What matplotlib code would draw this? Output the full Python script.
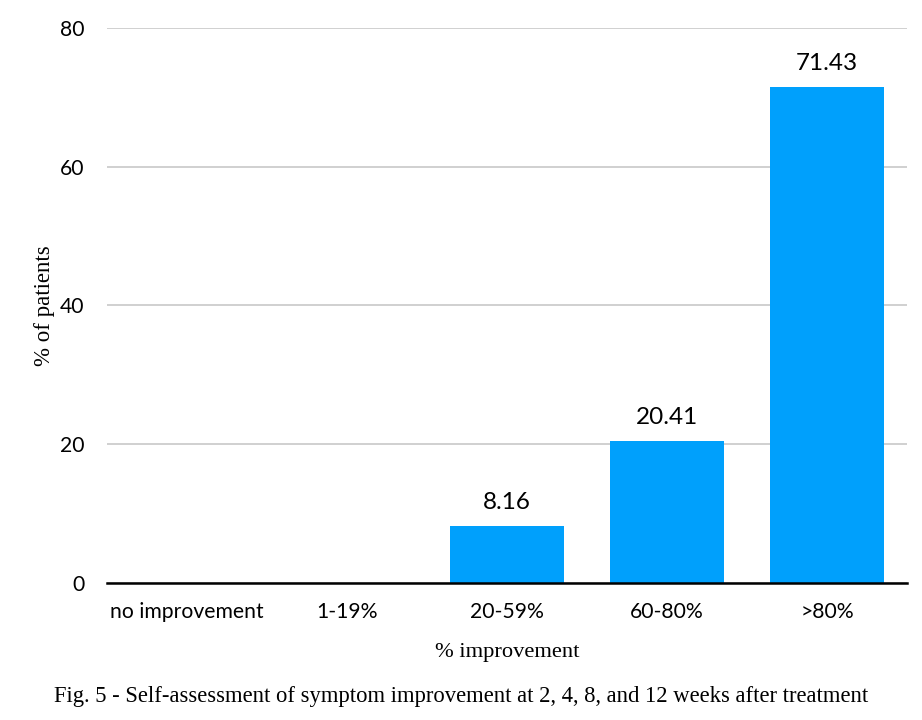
import matplotlib
matplotlib.use("Agg")
import matplotlib.pyplot as plt
import numpy as np

# data
categories = ["no improvement", "1-19%", "20-59%", "60-80%", ">80%"]
values = [0, 0, 8.16, 20.41, 71.43]
y_ticks = [0, 20, 40, 60, 80]

sans = ["Lato", "DejaVu Sans"]
serif = ["Liberation Serif", "DejaVu Serif"]

fig = plt.figure(figsize=(9.22, 7.2), dpi=100)
ax = fig.add_axes([0.116, 0.1903, 0.8677, 0.7708])

x = np.arange(len(categories))
bars = ax.bar(x, values, width=0.71, color="#00A0FC", zorder=3)

# value labels only on non-zero bars
for b, v in zip(bars, values):
    if v > 0:
        ax.text(b.get_x() + b.get_width() / 2, v + 2.0, f"{v:.2f}",
                ha="center", va="bottom", fontsize=17.5, family=sans)

ax.set_xlim(-0.5, len(categories) - 0.5)
ax.set_ylim(0, 80)
ax.set_yticks(y_ticks)
ax.set_xticks(x)
ax.set_xticklabels(categories, family=sans, fontsize=15.2)
ax.set_yticklabels([str(t) for t in y_ticks], family=sans, fontsize=15.2)

ax.grid(axis="y", color="#c8c8c8", linewidth=1.2, zorder=0)
for s in ["top", "right", "left"]:
    ax.spines[s].set_visible(False)
ax.spines["bottom"].set_color("black")
ax.spines["bottom"].set_linewidth(1.8)
ax.spines["bottom"].set_zorder(4)
ax.tick_params(axis="both", length=0)
ax.tick_params(axis="x", pad=14)
ax.tick_params(axis="y", pad=16)

ax.set_ylabel("% of patients", family=serif, fontsize=16.5, labelpad=4)
ax.set_xlabel("% improvement", family=serif, fontsize=16.2, labelpad=15)

fig.text(0.5, 0.032, "Fig. 5 - Self-assessment of symptom improvement at 2, 4, 8, and 12 weeks after treatment",
         ha="center", va="center", family=serif, fontsize=16.3)

fig.savefig("out.png", dpi=100)
